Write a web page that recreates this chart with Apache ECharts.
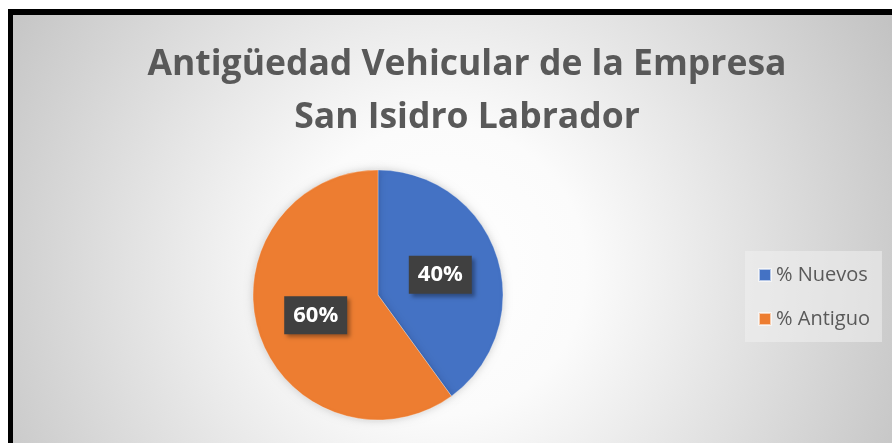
<!DOCTYPE html>
<html>
<head>
<meta charset="utf-8">
<script src="https://cdn.jsdelivr.net/npm/echarts@6/dist/echarts.min.js"></script>
<style>
  html, body { margin: 0; padding: 0; background: #fff; }
  #main { width: 892px; height: 443px; }
</style>
</head>
<body>
<div id="main"></div>
<script>
// 数据：类别与百分比
const categories = ['% Nuevos', '% Antiguo'];
const values = [40, 60];
const colors = ['#4472C4', '#ED7D31'];

const titleText = 'Antigüedad Vehicular de la Empresa\nSan Isidro Labrador';

const chart = echarts.init(document.getElementById('main'));

const option = {
    backgroundColor: '#ffffff',
    color: colors,
    graphic: [
        // 黑色外框
        { type: 'rect', z: -10, shape: { x: 8, y: 9, width: 900, height: 450 }, style: { fill: '#000' } },
        // 径向渐变背景
        {
            type: 'rect', z: -9,
            shape: { x: 13, y: 15, width: 900, height: 450 },
            style: {
                fill: {
                    type: 'radial', x: 440, y: 270, r: 520, global: true,
                    colorStops: [
                        { offset: 0, color: '#ffffff' },
                        { offset: 0.28, color: '#fbfbfb' },
                        { offset: 1, color: '#c2c2c2' }
                    ]
                }
            }
        }
    ],
    title: {
        text: titleText,
        left: 462,
        top: 33,
        textAlign: 'center',
        textStyle: {
            fontFamily: 'Open Sans',
            fontWeight: 'bold',
            fontSize: 35.5,
            lineHeight: 53,
            color: '#595959'
        }
    },
    legend: {
        orient: 'vertical',
        left: 745,
        top: 251,
        padding: [14, 12, 13, 13],
        itemWidth: 12,
        itemHeight: 12,
        itemGap: 24,
        icon: 'rect',
        backgroundColor: 'rgba(240,240,240,0.55)',
        data: categories,
        textStyle: { fontFamily: 'Open Sans', fontSize: 20, lineHeight: 20, color: '#595959' }
    },
    series: [{
        type: 'pie',
        center: [378, 295],
        radius: 125,
        startAngle: 90,
        clockwise: true,
        data: categories.map((name, i) => ({ name: name, value: values[i] })),
        itemStyle: {
            borderColor: 'rgba(255,255,255,0.6)',
            borderWidth: 0.5,
            shadowBlur: 8,
            shadowColor: 'rgba(0,0,0,0.18)'
        },
        label: {
            show: true,
            position: 'inside',
            formatter: '{c}%',
            fontFamily: 'Open Sans',
            fontWeight: 'bold',
            fontSize: 22,
            color: '#ffffff',
            backgroundColor: '#404040',
            padding: [8, 9, 8, 9],
            shadowBlur: 4,
            shadowOffsetX: 3,
            shadowOffsetY: 3,
            shadowColor: 'rgba(0,0,0,0.35)'
        },
        labelLine: { show: false },
        emphasis: { disabled: true },
        animation: false
    }],
    animation: false
};

chart.setOption(option);
</script>
</body>
</html>
